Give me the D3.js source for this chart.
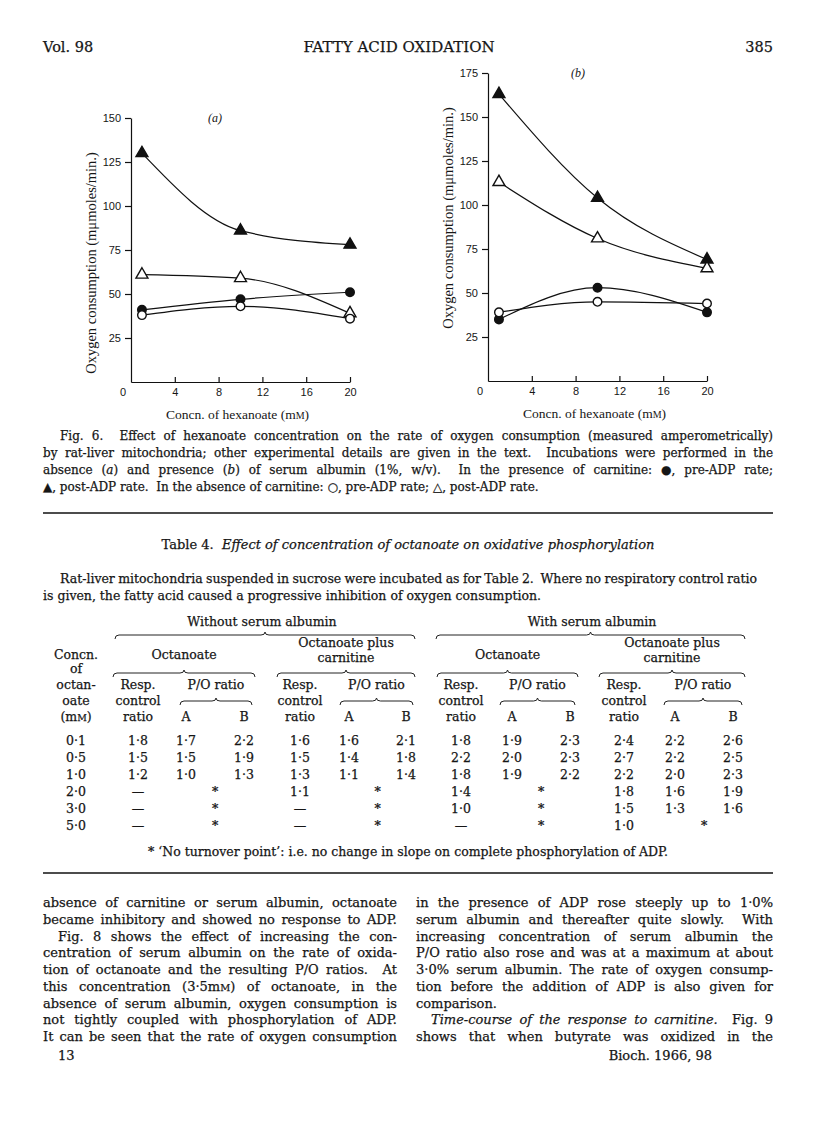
<!DOCTYPE html>
<html>
<head>
<meta charset="utf-8">
<script src="https://cdn.jsdelivr.net/npm/d3@7"></script>
<style>
  body { margin: 0; background: #fff; }
  text { fill: #161616; }
</style>
</head>
<body>
<script>
// ---- figure 6 values ----
var conc = [1, 10, 20];
var aPostCarn = [130, 86, 78];    // filled triangle
var aPostNoCarn = [61, 59, 39];   // open triangle
var aPreCarn = [41, 47, 51];      // filled circle
var aPreNoCarn = [38, 43, 36];    // open circle
var bPostCarn = [163, 104, 69];
var bPostNoCarn = [113, 81, 64];
var bPreCarn = [35, 53, 39];
var bPreNoCarn = [39, 45, 44];
var xTicks = [4, 8, 12, 16, 20];
var yTicksA = [25, 50, 75, 100, 125, 150];
var yTicksB = [25, 50, 75, 100, 125, 150, 175];

// ---- table 4 values ----
var octConc = ["0·1", "0·5", "1·0", "2·0", "3·0", "5·0"];
var noAlbOct = [["1·8", "1·7", "2·2"], ["1·5", "1·5", "1·9"], ["1·2", "1·0", "1·3"], ["—", "*", ""], ["—", "*", ""], ["—", "*", ""]];
var noAlbCarn = [["1·6", "1·6", "2·1"], ["1·5", "1·4", "1·8"], ["1·3", "1·1", "1·4"], ["1·1", "*", ""], ["—", "*", ""], ["—", "*", ""]];
var albOct = [["1·8", "1·9", "2·3"], ["2·2", "2·0", "2·3"], ["1·8", "1·9", "2·2"], ["1·4", "*", ""], ["1·0", "*", ""], ["—", "*", ""]];
var albCarn = [["2·4", "2·2", "2·6"], ["2·7", "2·2", "2·5"], ["2·2", "2·0", "2·3"], ["1·8", "1·6", "1·9"], ["1·5", "1·3", "1·6"], ["1·0", "*", ""]];

var W = 816, H = 1148;
var serif = "'DejaVu Serif', serif";
var svg = d3.select("body").append("svg").attr("width", W).attr("height", H);

// justify a text element to a width using word spacing
function justify(t, w) {
  var n = t.node();
  var nat = n.getComputedTextLength();
  var gaps = (n.textContent.match(/ /g) || []).length;
  if (gaps > 0) t.style("word-spacing", ((w - nat) / gaps) + "px");
}
// parts: array of [string, style] where style "i" = italic, "s" = small
function textLine(x, y, parts, size, w, anchor) {
  var t = svg.append("text").attr("x", x).attr("y", y)
    .attr("font-family", serif).attr("font-size", size)
    .attr("text-anchor", anchor || "start")
    .attr("stroke", "#161616").attr("stroke-width", 0.25)
    .attr("xml:space", "preserve");
  if (typeof parts === "string") parts = [[parts]];
  parts.forEach(function (p) {
    var s = t.append("tspan").text(p[0]);
    if (p[1] === "i") s.attr("font-style", "italic");
    if (p[1] === "s") s.attr("font-size", size * 0.75);
  });
  if (w) justify(t, w);
  return t;
}

// ---- running head ----
textLine(43, 52, "Vol. 98", 14.5);
textLine(399, 52, "FATTY ACID OXIDATION", 15, null, "middle");
textLine(773, 52, "385", 14.5, null, "end");

// ---- the two panels ----
function panel(cfg) {
  var x = d3.scaleLinear().domain([0, 20]).range([cfg.x0, cfg.x1]);
  var y = d3.scaleLinear().domain([0, cfg.ymax]).range([cfg.yb, cfg.yt]);
  var g = svg.append("g");

  var ya = g.append("g").attr("transform", "translate(" + cfg.x0 + ",0)")
    .call(d3.axisLeft(y).tickValues(cfg.yTicks).tickSize(6).tickSizeOuter(0).tickPadding(4));
  var xa = g.append("g").attr("transform", "translate(0," + cfg.yb + ")")
    .call(d3.axisBottom(x).tickValues(xTicks).tickSize(-5).tickSizeOuter(0).tickPadding(6));
  [ya, xa].forEach(function (a) {
    a.attr("font-family", "'Liberation Sans', sans-serif").attr("font-size", 11);
    a.selectAll("path, line").attr("stroke", "#111").attr("stroke-width", 1.2);
    a.selectAll("text").attr("fill", "#161616");
  });
  g.append("text").attr("x", cfg.x0 - 8).attr("y", cfg.yb + 14)
    .attr("font-family", "'Liberation Sans', sans-serif").attr("font-size", 11)
    .attr("text-anchor", "middle").text("0");

  var series = [
    { v: cfg.postCarn, shape: "tri", fill: "#111" },
    { v: cfg.postNoCarn, shape: "tri", fill: "#fff" },
    { v: cfg.preCarn, shape: "dot", fill: "#111" },
    { v: cfg.preNoCarn, shape: "dot", fill: "#fff" }
  ];
  var line = d3.line().curve(d3.curveMonotoneX)
    .x(function (d, i) { return x(conc[i]); })
    .y(function (d) { return y(d); });
  g.selectAll(".curve").data(series).enter().append("path")
    .attr("d", function (s) { return line(s.v); })
    .attr("fill", "none").attr("stroke", "#111").attr("stroke-width", 1.2);

  series.forEach(function (s) {
    var sym = d3.symbol().type(s.shape === "tri" ? d3.symbolTriangle : d3.symbolCircle)
      .size(s.shape === "tri" ? 62 : 58);
    g.selectAll(null).data(s.v).enter().append("path")
      .attr("d", sym)
      .attr("transform", function (d, i) { return "translate(" + x(conc[i]) + "," + y(d) + ")"; })
      .attr("fill", s.fill).attr("stroke", "#111").attr("stroke-width", 1.4);
  });

  g.append("text").attr("x", cfg.lx).attr("y", cfg.ly)
    .attr("transform", "rotate(-90," + cfg.lx + "," + cfg.ly + ")")
    .attr("text-anchor", "middle").attr("font-family", "'Liberation Serif', serif").attr("font-size", 14.5)
    .text("Oxygen consumption (mμmoles/min.)");
  var xl = g.append("text").attr("x", (cfg.x0 + cfg.x1) / 2 - 3).attr("y", cfg.yb + 37)
    .attr("text-anchor", "middle").attr("font-family", "'Liberation Serif', serif").attr("font-size", 13.5);
  xl.append("tspan").text("Concn. of hexanoate (m");
  xl.append("tspan").attr("font-size", 10).text("M");
  xl.append("tspan").text(")");
  g.append("text").attr("x", cfg.px).attr("y", cfg.py)
    .attr("font-family", "'Liberation Serif', serif").attr("font-style", "italic").attr("font-size", 12)
    .text(cfg.label);
}

panel({ x0: 131, x1: 350, yb: 382, yt: 118, ymax: 150, yTicks: yTicksA,
  postCarn: aPostCarn, postNoCarn: aPostNoCarn, preCarn: aPreCarn, preNoCarn: aPreNoCarn,
  lx: 96, ly: 263, px: 208, py: 122, label: "(a)" });
panel({ x0: 488, x1: 707, yb: 381, yt: 73, ymax: 175, yTicks: yTicksB,
  postCarn: bPostCarn, postNoCarn: bPostNoCarn, preCarn: bPreCarn, preNoCarn: bPreNoCarn,
  lx: 453, ly: 218, px: 571, py: 77, label: "(b)" });

// ---- figure caption ----
var capSize = 12;
textLine(60, 440, "Fig. 6.  Effect of hexanoate concentration on the rate of oxygen consumption (measured amperometrically)", capSize, 713);
textLine(43, 457, "by rat-liver mitochondria; other experimental details are given in the text.  Incubations were performed in the", capSize, 730);
textLine(43, 474, [["absence ("], ["a", "i"], [") and presence ("], ["b", "i"], [") of serum albumin (1%, w/v).  In the presence of carnitine: ●, pre-ADP rate;"]], capSize, 730);
textLine(43, 491, "▲, post-ADP rate.  In the absence of carnitine: ○, pre-ADP rate; △, post-ADP rate.", capSize);

svg.append("line").attr("x1", 43).attr("x2", 773).attr("y1", 513).attr("y2", 513)
  .attr("stroke", "#111").attr("stroke-width", 1.3);

// ---- table 4 ----
var ts = 12.5;
textLine(408, 549, [["Table 4.  "], ["Effect of concentration of octanoate on oxidative phosphorylation", "i"]], 13, null, "middle");
textLine(60, 583, "Rat-liver mitochondria suspended in sucrose were incubated as for Table 2.  Where no respiratory control ratio", ts, 697);
textLine(43, 600, "is given, the fatty acid caused a progressive inhibition of oxygen consumption.", ts);

function brace(x1, x2, y, xm) {
  var m = xm || (x1 + x2) / 2;
  var p = "M" + x1 + "," + (y + 4) + "Q" + x1 + "," + y + " " + (x1 + 4) + "," + y +
    "L" + (m - 4) + "," + y + "Q" + m + "," + y + " " + m + "," + (y - 3) +
    "Q" + m + "," + y + " " + (m + 4) + "," + y +
    "L" + (x2 - 4) + "," + y + "Q" + x2 + "," + y + " " + x2 + "," + (y + 4);
  svg.append("path").attr("d", p).attr("fill", "none").attr("stroke", "#222").attr("stroke-width", 1);
}

var groups = [
  { data: noAlbOct, cols: [138, 186, 244], head: ["Octanoate"], b: [113, 255], po: [180, 252] },
  { data: noAlbCarn, cols: [300, 349, 406], head: ["Octanoate plus", "carnitine"], b: [277, 415], po: [340, 413] },
  { data: albOct, cols: [461, 512, 570], head: ["Octanoate"], b: [437, 578], po: [500, 575] },
  { data: albCarn, cols: [624, 675, 733], head: ["Octanoate plus", "carnitine"], b: [599, 745], po: [664, 742] }
];

textLine(262, 626, "Without serum albumin", ts, null, "middle");
textLine(592, 626, "With serum albumin", ts, null, "middle");
brace(115, 415, 635);
brace(436, 745, 635);

// stub column
var stubX = 76;
textLine(stubX, 659, "Concn.", ts, null, "middle");
textLine(stubX, 673, "of", ts, null, "middle");
textLine(stubX, 689, "octan-", ts, null, "middle");
textLine(stubX, 705, "oate", ts, null, "middle");
textLine(stubX, 721, [["(m"], ["M", "s"], [")"]], ts, null, "middle");

var rowY = d3.scalePoint().domain(octConc).range([745, 830]);
svg.selectAll(".conc").data(octConc).enter().append("text")
  .attr("x", stubX).attr("y", function (d) { return rowY(d); })
  .attr("text-anchor", "middle").attr("font-family", serif).attr("font-size", ts)
  .attr("stroke", "#161616").attr("stroke-width", 0.25)
  .text(function (d) { return d; });

groups.forEach(function (gr) {
  var cx = (gr.b[0] + gr.b[1]) / 2;
  if (gr.head.length === 2) {
    textLine(cx, 647, gr.head[0], ts, null, "middle");
    textLine(cx, 662, gr.head[1], ts, null, "middle");
  } else {
    textLine(cx, 659, gr.head[0], ts, null, "middle");
  }
  brace(gr.b[0], gr.b[1], 673);
  textLine(gr.cols[0], 689, "Resp.", ts, null, "middle");
  textLine(gr.cols[0], 705, "control", ts, null, "middle");
  textLine(gr.cols[0], 721, "ratio", ts, null, "middle");
  textLine((gr.po[0] + gr.po[1]) / 2, 689, "P/O ratio", ts, null, "middle");
  brace(gr.po[0], gr.po[1], 701);
  textLine(gr.cols[1], 721, "A", ts, null, "middle");
  textLine(gr.cols[2], 721, "B", ts, null, "middle");

  gr.data.forEach(function (row, i) {
    var y = rowY(octConc[i]);
    textLine(gr.cols[0], y, row[0], ts, null, "middle");
    if (row[1] === "*") {
      textLine((gr.cols[1] + gr.cols[2]) / 2, y, "*", ts, null, "middle");
    } else {
      textLine(gr.cols[1], y, row[1], ts, null, "middle");
      textLine(gr.cols[2], y, row[2], ts, null, "middle");
    }
  });
});

textLine(408, 856, "* ‘No turnover point’: i.e. no change in slope on complete phosphorylation of ADP.", ts, null, "middle");

svg.append("line").attr("x1", 43).attr("x2", 773).attr("y1", 873).attr("y2", 873)
  .attr("stroke", "#111").attr("stroke-width", 1.3);

// ---- body text, two columns ----
var bs = 13, lh = 16.75, bodyTop = 907;
var leftCol = [
  ["absence of carnitine or serum albumin, octanoate", 43, 354],
  ["became inhibitory and showed no response to ADP.", 43, 354],
  ["Fig. 8 shows the effect of increasing the con-", 58, 339],
  ["centration of serum albumin on the rate of oxida-", 43, 354],
  ["tion of octanoate and the resulting P/O ratios.  At", 43, 354],
  [[["this concentration (3·5m"], ["M", "s"], [") of octanoate, in the"]], 43, 354],
  ["absence of serum albumin, oxygen consumption is", 43, 354],
  ["not tightly coupled with phosphorylation of ADP.", 43, 354],
  ["It can be seen that the rate of oxygen consumption", 43, 354]
];
var rightCol = [
  ["in the presence of ADP rose steeply up to 1·0%", 416, 357],
  ["serum albumin and thereafter quite slowly.  With", 416, 357],
  ["increasing concentration of serum albumin the", 416, 357],
  ["P/O ratio also rose and was at a maximum at about", 416, 357],
  ["3·0% serum albumin. The rate of oxygen consump-", 416, 357],
  ["tion before the addition of ADP is also given for", 416, 357],
  ["comparison.", 416, null],
  [[["Time-course of the response to carnitine.", "i"], ["  Fig. 9"]], 431, 342],
  ["shows that when butyrate was oxidized in the", 416, 357]
];
leftCol.concat(rightCol).forEach(function (l, i) {
  textLine(l[1], bodyTop + (i % 9) * lh, l[0], bs, l[2]);
});

textLine(58, 1060, "13", 13);
textLine(712, 1060, "Bioch. 1966, 98", 13, null, "end");
</script>
</body>
</html>
